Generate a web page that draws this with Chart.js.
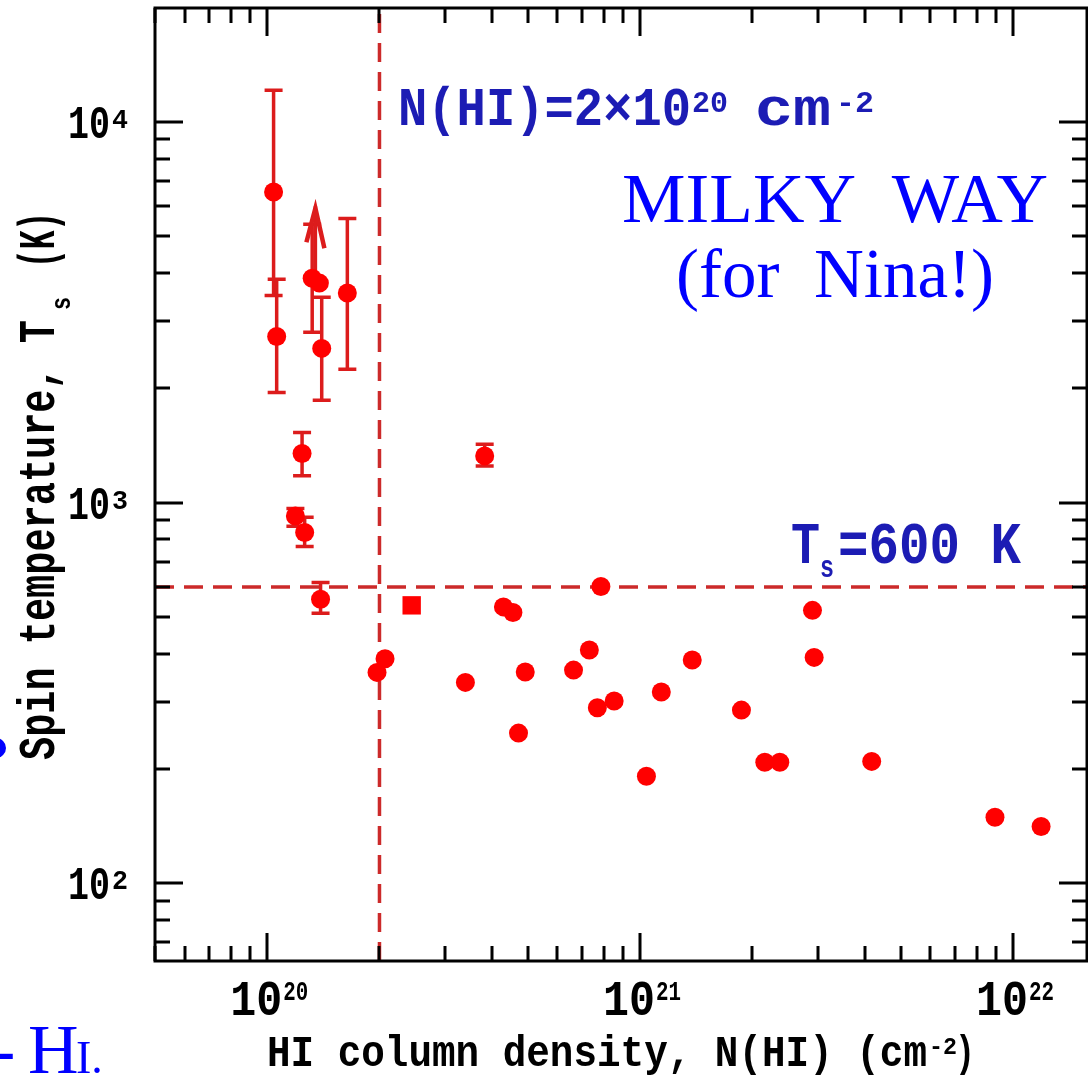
<!DOCTYPE html>
<html>
<head>
<meta charset="utf-8">
<script src="https://cdn.jsdelivr.net/npm/chart.js@4.4.1/dist/chart.umd.min.js"></script>
<style>
  html, body { margin: 0; padding: 0; background: #fff; }
  #wrap { position: relative; width: 1088px; height: 1079px; }
</style>
</head>
<body>
<div id="wrap"><canvas id="plot"></canvas></div>
<script>
// HI column density (cm^-2) and spin temperature (K)
const detX = [1.97e20, 2.07e20, 3.40e20, 4.30e20, 4.56e20, 4.92e20, 4.72e20, 6.63e20, 7.31e20, 7.68e20, 8.52e20, 7.85e20,
              1.04e21, 1.14e21, 1.38e21, 1.87e21, 2.16e21, 2.37e21, 2.90e21, 2.93e21, 4.18e21, 8.95e21, 1.19e22];
const detY = [358, 389, 337, 532, 514, 359, 248, 363, 410, 289, 301, 602,
              191, 318, 386, 285, 208, 208, 521, 392, 209, 149, 141];

// low column density sightlines with error bars
const errX  = [1.04e20, 1.06e20, 1.32e20, 1.40e20, 1.64e20, 1.24e20, 1.19e20, 1.26e20, 1.39e20, 3.83e20];
const errY  = [6540, 2730, 3880, 2540, 3550, 1345, 922, 834, 557, 1326];
const errLo = [3500, 1945, 2800, 1857, 2240, 1175, 866, 766, 512, 1248];
const errHi = [12100, 3860, 5380, 3460, 5570, 1527, 964, 915, 617, 1423];

const sqX = [2.44e20];
const sqY = [537];

// lower limit (arrow)
const limX = [1.38e20];
const limY = [3770];
const limTip = [6000];

const cutNHI = 2e20;
const cutTs = 600;

const xTickExps = [20, 21, 22];
const yTickExps = [2, 3, 4];

const xMin = 5.0e19, xMax = 1.58e22;
const yMin = 62.5, yMax = 19900;

const red = '#ff0000';
const barRed = '#dc1c1c';
const dashRed = '#cc2a2a';
const navy = '#1c1cb4';
const blue = '#0000ff';

const pts = (xs, ys) => xs.map((x, i) => ({ x: x, y: ys[i] }));

function mono(size) { return 'bold ' + size + 'px "Liberation Mono", "Courier New", monospace'; }
function serif(size) { return size + 'px "Liberation Serif", "Times New Roman", serif'; }

// draw text squeezed/stretched to a given width, left aligned at x
function fitText(ctx, str, x, y, font, width) {
  ctx.font = font;
  const w = ctx.measureText(str).width;
  ctx.save();
  ctx.translate(x, y);
  ctx.scale(width / w, 1);
  ctx.fillText(str, 0, 0);
  ctx.restore();
}

function logTicks(min, max) {
  const out = [];
  for (let e = Math.floor(Math.log10(min)); e <= Math.ceil(Math.log10(max)); e++) {
    for (let m = 1; m <= 9; m++) {
      const v = m * Math.pow(10, e);
      if (v >= min && v <= max) out.push({ v: v, major: m === 1 });
    }
  }
  return out;
}

const errorBars = {
  id: 'errorBars',
  beforeDatasetsDraw(chart) {
    const { ctx, scales: { x, y } } = chart;
    ctx.save();
    ctx.strokeStyle = barRed;
    ctx.fillStyle = barRed;
    ctx.lineWidth = 3.5;
    errX.forEach((v, i) => {
      const px = x.getPixelForValue(v);
      const lo = y.getPixelForValue(errLo[i]);
      const hi = y.getPixelForValue(errHi[i]);
      ctx.beginPath();
      ctx.moveTo(px, lo); ctx.lineTo(px, hi);
      ctx.moveTo(px - 9, lo); ctx.lineTo(px + 9, lo);
      ctx.moveTo(px - 9, hi); ctx.lineTo(px + 9, hi);
      ctx.stroke();
    });
    limX.forEach((v, i) => {
      const px = x.getPixelForValue(v) - 4;
      const py = y.getPixelForValue(limY[i]);
      const pt = y.getPixelForValue(limTip[i]);
      ctx.beginPath();
      ctx.moveTo(px, py); ctx.lineTo(px, pt);
      ctx.stroke();
      ctx.lineWidth = 4.5;
      ctx.lineJoin = 'miter';
      ctx.beginPath();
      ctx.moveTo(px - 9, pt + 36);
      ctx.lineTo(px, pt + 2);
      ctx.lineTo(px + 9, pt + 42);
      ctx.stroke();
    });
    ctx.restore();
  }
};

const frame = {
  id: 'frame',
  afterDraw(chart) {
    const { ctx, chartArea: a, scales: { x, y } } = chart;
    ctx.save();
    ctx.strokeStyle = '#000';
    ctx.lineWidth = 3;
    ctx.strokeRect(a.left, a.top, a.right - a.left, a.bottom - a.top);

    ctx.beginPath();
    logTicks(xMin, xMax).forEach(t => {
      const px = Math.round(x.getPixelForValue(t.v));
      const len = t.major ? 28 : 15;
      ctx.moveTo(px, a.bottom); ctx.lineTo(px, a.bottom - len);
      ctx.moveTo(px, a.top); ctx.lineTo(px, a.top + len);
    });
    logTicks(yMin, yMax).forEach(t => {
      const py = Math.round(y.getPixelForValue(t.v));
      const len = t.major ? 28 : 15;
      ctx.moveTo(a.left, py); ctx.lineTo(a.left + len, py);
      ctx.moveTo(a.right, py); ctx.lineTo(a.right - len, py);
    });
    ctx.stroke();

    // tick labels
    ctx.fillStyle = '#000';
    ctx.textBaseline = 'alphabetic';
    xTickExps.forEach(e => {
      const px = x.getPixelForValue(Math.pow(10, e));
      fitText(ctx, '10', px - 37, 1015, mono(50), 52);
      fitText(ctx, String(e), px + 16, 1000, mono(28), 25);
    });
    yTickExps.forEach(e => {
      const py = y.getPixelForValue(Math.pow(10, e));
      fitText(ctx, '10', 68, py + 16, mono(47), 42);
      fitText(ctx, String(e), 112, py + 6, mono(27), 16);
    });

    // axis titles
    fitText(ctx, 'HI column density, N(HI) (cm', 267, 1066, mono(44), 660);
    fitText(ctx, '-2', 929, 1054, mono(24), 28);
    fitText(ctx, ')', 955, 1066, mono(44), 20);

    ctx.save();
    ctx.translate(54, 760);
    ctx.rotate(-Math.PI / 2);
    fitText(ctx, 'Spin temperature, T', 0, 0, mono(52), 440);
    fitText(ctx, 's', 450, 16, mono(28), 13);
    fitText(ctx, '(K)', 492, 0, mono(52), 56);
    ctx.restore();

    // reference line labels
    ctx.fillStyle = navy;
    fitText(ctx, 'N(HI)=2\u00d710', 398, 125, mono(54), 293);
    fitText(ctx, '20', 692, 112, mono(29), 36);
    fitText(ctx, 'cm', 755, 125, mono(54), 76);
    fitText(ctx, '-2', 836, 112, mono(29), 38);

    fitText(ctx, 'T', 791, 563, mono(60), 29);
    fitText(ctx, 's', 820, 577, mono(32), 14);
    fitText(ctx, '=600 K', 838, 563, mono(60), 183);

    // big slide captions
    ctx.fillStyle = blue;
    fitText(ctx, 'MILKY  WAY', 622, 222, serif(69), 426);
    fitText(ctx, '(for  Nina!)', 676, 297, serif(69), 318);

    ctx.font = serif(70);
    ctx.fillText('-', -8, 1073);
    ctx.fillText('H', 28, 1073);
    ctx.font = serif(46);
    ctx.fillText('I.', 76, 1073);

    ctx.beginPath();
    ctx.arc(-4, 748, 10, 0, Math.PI * 2);
    ctx.fill();

    ctx.restore();
  }
};

new Chart(document.getElementById('plot'), {
  type: 'scatter',
  data: {
    datasets: [
      {
        type: 'line',
        data: [{ x: cutNHI, y: yMin }, { x: cutNHI, y: yMax }],
        borderColor: dashRed, borderWidth: 3.5, borderDash: [19, 10],
        pointRadius: 0, order: 5
      },
      {
        type: 'line',
        data: [{ x: xMin, y: cutTs }, { x: xMax, y: cutTs }],
        borderColor: dashRed, borderWidth: 3.5, borderDash: [19, 10],
        pointRadius: 0, order: 5
      },
      { data: pts(detX, detY), pointRadius: 9.5, backgroundColor: red, borderWidth: 0, order: 1 },
      { data: pts(errX, errY), pointRadius: 9.5, backgroundColor: red, borderWidth: 0, order: 1 },
      { data: pts(limX, limY), pointRadius: 9.5, backgroundColor: red, borderWidth: 0, order: 1 },
      { data: pts(sqX, sqY), pointStyle: 'rect', pointRadius: 13, backgroundColor: red, borderWidth: 0, order: 1 }
    ]
  },
  options: {
    responsive: true,
    maintainAspectRatio: false,
    animation: false,
    layout: { autoPadding: false, padding: { left: 155, top: 8, right: 1, bottom: 118 } },
    plugins: { legend: { display: false }, tooltip: { enabled: false } },
    scales: {
      x: { type: 'logarithmic', min: xMin, max: xMax, bounds: 'data', display: false },
      y: { type: 'logarithmic', min: yMin, max: yMax, bounds: 'data', display: false }
    }
  },
  plugins: [errorBars, frame]
});
</script>
</body>
</html>
